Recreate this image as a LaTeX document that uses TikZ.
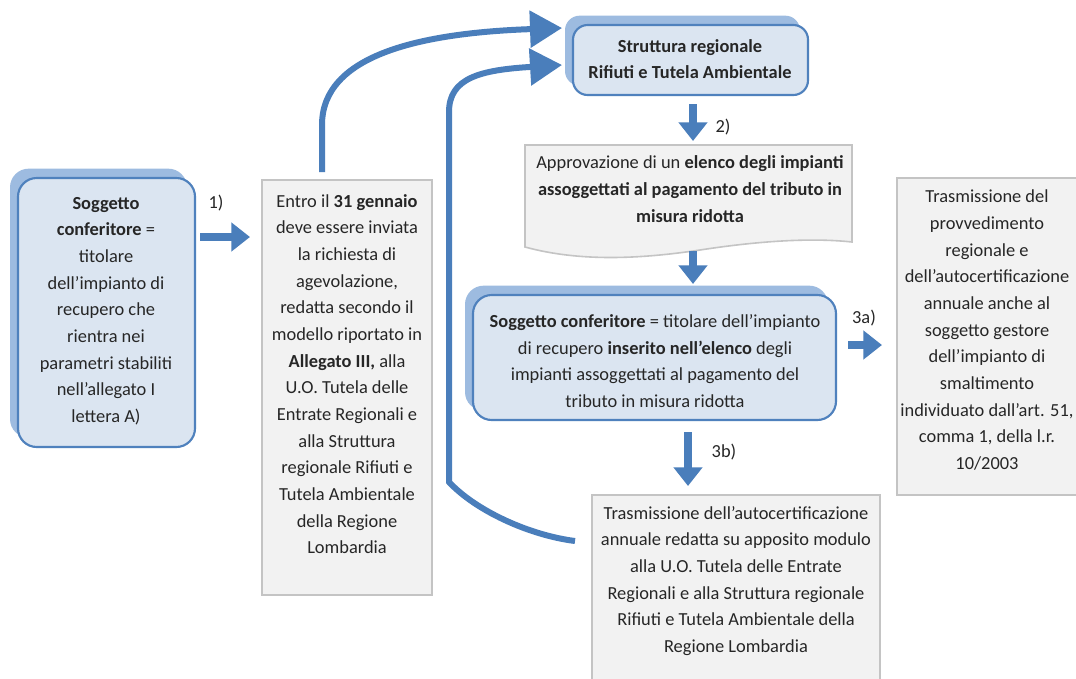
\documentclass[tikz,border=0pt]{standalone}
\usepackage{fontspec}
\setmainfont{Carlito}
\usetikzlibrary{arrows.meta,fit,shadows,calc}
\definecolor{arrowblue}{HTML}{4A7EBB}
\definecolor{boxblue}{HTML}{4F81BD}
\definecolor{frontblue}{HTML}{DBE5F1}
\definecolor{shadowblue}{HTML}{9DBBE0}
\definecolor{grayfill}{HTML}{F2F2F2}
\definecolor{grayline}{HTML}{C4C4C4}
\tikzset{
 bluebox/.style={draw=boxblue, line width=1.6pt, fill=frontblue, rounded corners=14pt, inner sep=0pt,
   copy shadow={shadow xshift=-6pt, shadow yshift=7pt, fill=shadowblue, draw=none}},
 graybox/.style={draw=grayline, line width=1.2pt, fill=grayfill, inner sep=0pt},
 txt/.style={align=center, inner sep=0pt, font=\fontsize{13.8}{20}\selectfont, text=black!85},
 lbl/.style={inner sep=0pt, font=\fontsize{13.8}{16}\selectfont, text=black!85},
 blockarrow/.style={draw=arrowblue, line width=6.5pt, -{Triangle[length=14pt,width=21pt]}},
 curvearrow/.style={draw=arrowblue, line width=4.5pt, -{Triangle[length=24pt,width=27pt]}},
}
\begin{document}
\begin{tikzpicture}[x=0.75pt,y=-0.75pt]
\clip (0,0) rectangle (1076,679);
\fill[white] (0,0) rectangle (1076,679);

% boxes
\node[bluebox, fit={(18,178) (195,447)}] (sogg1) {};
\node[txt] (sogg1txt) at (106,311) {\textbf{Soggetto}\\\textbf{conferitore} =\\titolare\\dell’impianto di\\recupero che\\rientra nei\\parametri stabiliti\\nell’allegato I\\lettera A)};

\node[graybox, fit={(262,180) (432,595)}] (entro) {};
\node[txt] (entrotxt) at (347,374) {Entro il \textbf{31 gennaio}\\deve essere inviata\\la richiesta di\\agevolazione,\\redatta secondo il\\modello riportato in\\\textbf{Allegato III,} alla\\U.O. Tutela delle\\Entrate Regionali e\\alla Struttura\\regionale Rifiuti e\\Tutela Ambientale\\della Regione\\Lombardia};

\node[bluebox, rounded corners=11pt, fit={(573,25) (808,95)}] (strut) {};
\node[txt] (struttxt) at (690,59) {\textbf{Struttura regionale}\\\textbf{Rifiuti e Tutela Ambientale}};

\path[graybox] (525,145) -- (852,145) -- (852,242)
  .. controls (815,238) and (765,240) .. (700,250)
  .. controls (640,259) and (580,262) .. (525,247) -- cycle;
\node[fit={(525,145) (852,250)}, inner sep=0pt] (approv) {};
\node[txt] (approvtxt) at (690,189) {Approvazione di un \textbf{elenco degli impianti}\\\textbf{assoggettati al pagamento del tributo in}\\\textbf{misura ridotta}};

\node[bluebox, fit={(473,295) (836,420)}] (sogg2) {};
\node[txt] (sogg2txt) at (655,361) {\textbf{Soggetto conferitore} = titolare dell’impianto\\di recupero \textbf{inserito nell’elenco} degli\\impianti assoggettati al pagamento del\\tributo in misura ridotta};

\node[graybox, fit={(897,178) (1090,495)}] (trasm1) {};
\node[txt] (trasm1txt) at (987,330) {Trasmissione del\\provvedimento\\regionale e\\dell’autocertificazione\\annuale anche al\\soggetto gestore\\dell’impianto di\\smaltimento\\individuato dall’art. 51,\\comma 1, della l.r.\\10/2003};

\node[graybox, fit={(592,495) (880,700)}] (trasm2) {};
\node[txt] (trasm2txt) at (736,581) {Trasmissione dell’autocertificazione\\annuale redatta su apposito modulo\\alla U.O. Tutela delle Entrate\\Regionali e alla Struttura regionale\\Rifiuti e Tutela Ambientale della\\Regione Lombardia};

% connector end points
\coordinate (a1s) at (200,237);
\coordinate (a1e) at (250,237);
\coordinate (a2s) at (693,104);
\coordinate (a2e) at (693,141);
\coordinate (a3s) at (693,251);
\coordinate (a3e) at (693,284);
\coordinate (a4s) at (848,345);
\coordinate (a4e) at (882,345);
\coordinate (a5s) at (688,432);
\coordinate (a5e) at (688,486);
\coordinate (c1s) at (322,172);
\coordinate (c1e) at (562,28);
\coordinate (c2s) at (575,541);
\coordinate (c2e) at (562,65);

% block arrows
\draw[blockarrow] (a1s) -- (a1e);
\draw[blockarrow] (a2s) -- (a2e);
\draw[blockarrow] (a3s) -- (a3e);
\draw[blockarrow] (a4s) -- (a4e);
\draw[blockarrow] (a5s) -- (a5e);

% curved arrows
\draw[curvearrow] (c1s) -- (322,125) .. controls (322,55) and (420,33) .. (c1e);
\draw[curvearrow] (c2s) .. controls (528,535) and (475,510) .. (449,482)
   -- (449,112) .. controls (449,78) and (480,70) .. (c2e);

% labels
\node[lbl] (l1) at (216,203) {1)};
\node[lbl] (l2) at (723,127) {2)};
\node[lbl] (l3a) at (864,318) {3a)};
\node[lbl] (l3b) at (724,452) {3b)};
\end{tikzpicture}
\end{document}
